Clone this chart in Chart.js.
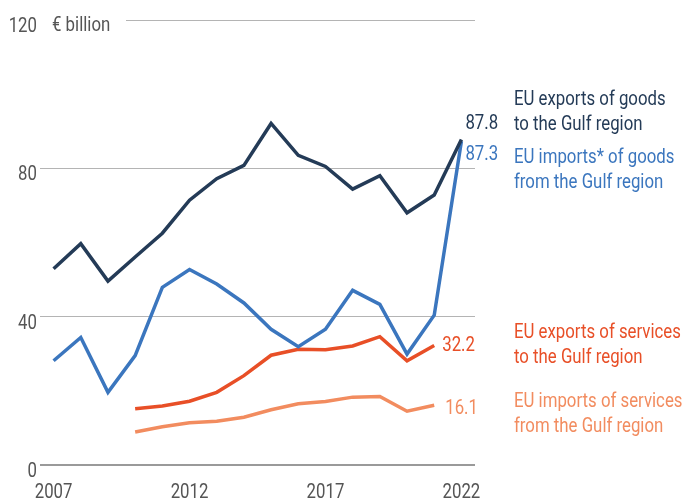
<!DOCTYPE html>
<html>
<head>
<meta charset="utf-8">
<script src="https://cdn.jsdelivr.net/npm/chart.js@4/dist/chart.umd.min.js"></script>
<style>
  html, body { margin: 0; padding: 0; background: #fff; }
  #wrap { width: 684px; height: 499px; position: relative; }
</style>
</head>
<body>
<div id="wrap"><canvas id="myChart"></canvas></div>
<script>
const FONT = '21px Roboto, sans-serif';
const SX = 0.8; // the original type is a condensed face, squeeze it a bit

const COLORS = {
  goodsExp: '#243b57',
  goodsImp: '#3b76be',
  servExp: '#e84f27',
  servImp: '#f28c5f',
  axis: '#555555',
  grid: '#b4b4b4'
};

const years = ['2007', '2008', '2009', '2010', '2011', '2012', '2013', '2014',
  '2015', '2016', '2017', '2018', '2019', '2020', '2021', '2022'];
const shownYears = ['2007', '2012', '2017', '2022'];
const yTicks = [0, 40, 80, 120];

const goodsExports = [52.9, 59.7, 49.6, 56.1, 62.5, 71.4, 77.2, 80.8, 92.1, 83.5, 80.5, 74.4, 78.0, 68.0, 72.8, 87.8];
const goodsImports = [28.1, 34.4, 19.6, 29.5, 47.9, 52.7, 48.8, 43.7, 36.6, 31.9, 36.6, 47.1, 43.3, 29.9, 40.4, 87.3];
const servicesExports = [null, null, null, 15.2, 15.9, 17.2, 19.6, 24.1, 29.6, 31.2, 31.1, 32.1, 34.6, 28.1, 32.2, null];
const servicesImports = [null, null, null, 8.9, 10.3, 11.4, 11.8, 12.9, 14.9, 16.5, 17.1, 18.3, 18.5, 14.5, 16.1, null];

const seriesLabels = [
  ['EU exports of goods', 'to the Gulf region'],
  ['EU imports* of goods', 'from the Gulf region'],
  ['EU exports of services', 'to the Gulf region'],
  ['EU imports of services', 'from the Gulf region']
];

function line(data, color) {
  return {
    data: data,
    borderColor: color,
    borderWidth: 3.5,
    pointRadius: 0,
    tension: 0,
    spanGaps: false
  };
}

function txt(c, s, x, y, align, color) {
  c.save();
  c.fillStyle = color;
  c.textAlign = align;
  c.textBaseline = 'alphabetic';
  c.font = FONT;
  c.translate(x, y);
  c.scale(SX, 1);
  c.fillText(s, 0, 0);
  c.restore();
}

// tick labels, end values, series names and the unit label
const annotate = {
  id: 'annotate',
  afterDraw(chart) {
    const c = chart.ctx;
    const area = chart.chartArea;
    const xs = chart.scales.x;
    const ys = chart.scales.y;

    yTicks.forEach(v => txt(c, String(v), 37, ys.getPixelForValue(v) + 12, 'right', COLORS.axis));
    shownYears.forEach(l => txt(c, l, xs.getPixelForValue(years.indexOf(l)), 498, 'center', COLORS.axis));

    // unit label over the top grid line
    c.fillStyle = '#fff';
    c.fillRect(area.left, ys.getPixelForValue(120) - 3, 86, 6);
    txt(c, '€ billion', 52, ys.getPixelForValue(120) + 11, 'left', COLORS.axis);

    // last values
    const ends = [
      [0, 15, 4, -10],
      [1, 15, 4, 19],
      [2, 14, 8, 5],
      [3, 14, 11, 9]
    ];
    ends.forEach(([di, idx, dx, dy]) => {
      const ds = chart.data.datasets[di];
      const pt = chart.getDatasetMeta(di).data[idx];
      txt(c, ds.data[idx].toFixed(1), pt.x + dx, pt.y + dy, 'left', ds.borderColor);
    });

    // series names
    const baselines = [105, 163, 338, 407];
    seriesLabels.forEach((lines, i) => {
      lines.forEach((t, j) => txt(c, t, 514, baselines[i] + j * 25, 'left', chart.data.datasets[i].borderColor));
    });
  }
};

const ctx = document.getElementById('myChart');
const myChart = new Chart(ctx, {
  type: 'line',
  data: {
    labels: years,
    datasets: [
      line(goodsExports, COLORS.goodsExp),
      line(goodsImports, COLORS.goodsImp),
      line(servicesExports, COLORS.servExp),
      line(servicesImports, COLORS.servImp)
    ]
  },
  options: {
    responsive: true,
    maintainAspectRatio: false,
    animation: false,
    layout: { padding: { left: 40, right: 209, top: 20, bottom: 26 } },
    plugins: { legend: { display: false }, tooltip: { enabled: false } },
    scales: {
      x: {
        offset: true,
        grid: { display: false },
        border: { display: false },
        ticks: { display: false }
      },
      y: {
        min: 0,
        max: 120,
        afterBuildTicks(axis) { axis.ticks = yTicks.map(v => ({ value: v })); },
        border: { display: false },
        grid: {
          drawTicks: false,
          color: c => c.tick && c.tick.value === 0 ? '#9a9a9a' : COLORS.grid,
          lineWidth: c => c.tick && c.tick.value === 0 ? 2 : 1
        },
        ticks: { display: false }
      }
    }
  },
  plugins: [annotate]
});
</script>
</body>
</html>
